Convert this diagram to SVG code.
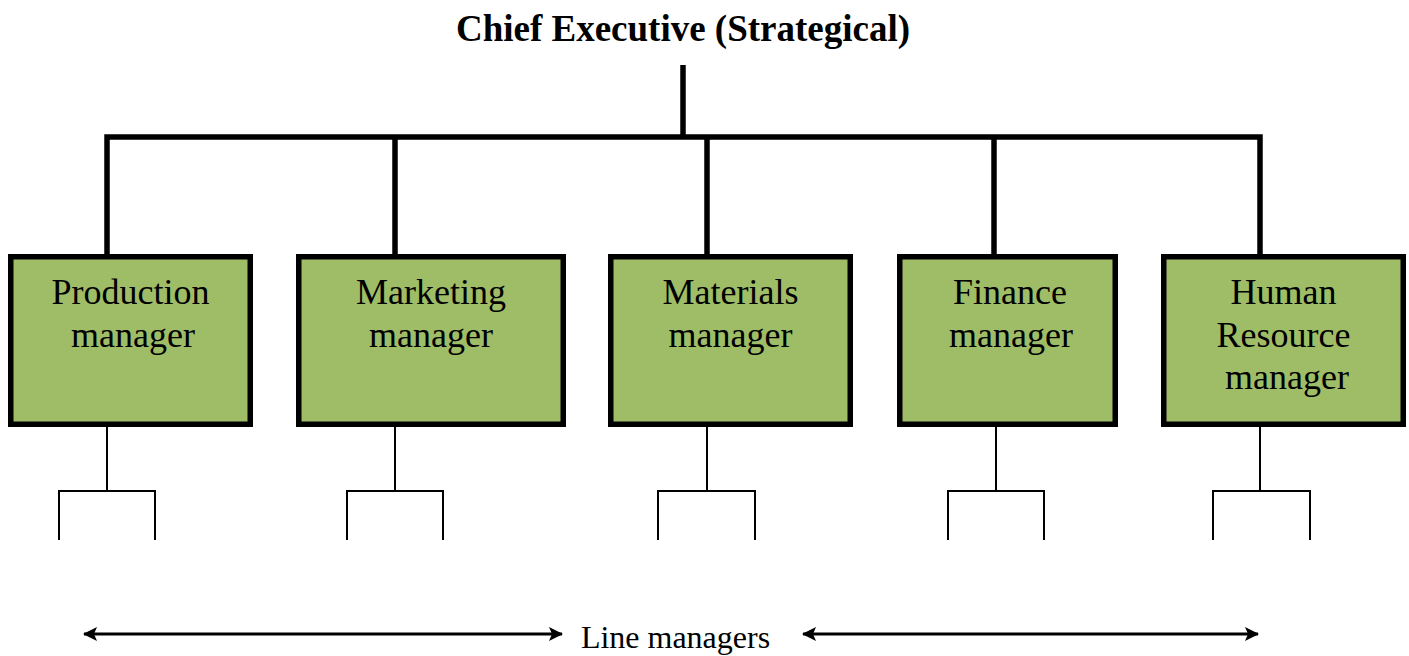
<svg xmlns="http://www.w3.org/2000/svg" width="1409" height="656" viewBox="0 0 1409 656">
  <style>
    .box { fill: #9FBD66; stroke: #000; stroke-width: 5.5; }
    .lbl { font-family: "Liberation Serif", "Times New Roman", serif; font-size: 36px; fill: #000; text-anchor: middle; }
    .title { font-family: "Liberation Serif", "Times New Roman", serif; font-size: 37px; font-weight: bold; fill: #000; text-anchor: middle; }
    .note { font-family: "Liberation Serif", "Times New Roman", serif; font-size: 32px; fill: #000; text-anchor: middle; }
    .thick { fill: none; stroke: #000; stroke-width: 5.5; stroke-linejoin: miter; }
    .thin { fill: none; stroke: #000; stroke-width: 2; }
    .arrow { fill: none; stroke: #000; stroke-width: 3; marker-start: url(#ah); marker-end: url(#ah); }
  </style>
  <defs>
    <marker id="ah" viewBox="0 0 14 14" refX="13" refY="7" markerWidth="14" markerHeight="14" markerUnits="userSpaceOnUse" orient="auto-start-reverse">
      <path d="M0,0 L14,7 L0,14 L3,7 z" fill="#000"/>
    </marker>
  </defs>

  <g id="chief-executive">
    <text class="title" x="683" y="41">Chief Executive (Strategical)</text>
  </g>

  <g id="connectors">
    <line class="thick" x1="683" y1="65" x2="683" y2="137"/>
    <path class="thick" d="M107,256 V137 H1260 V256"/>
    <line class="thick" x1="395" y1="137" x2="395" y2="256"/>
    <line class="thick" x1="707" y1="137" x2="707" y2="256"/>
    <line class="thick" x1="994" y1="137" x2="994" y2="256"/>

    <path class="thin" d="M107,419 V491 M59,540 V491 H155 V540"/>
    <path class="thin" d="M395,419 V491 M347,540 V491 H443 V540"/>
    <path class="thin" d="M707,419 V491 M658,540 V491 H755 V540"/>
    <path class="thin" d="M996,419 V491 M948,540 V491 H1044 V540"/>
    <path class="thin" d="M1260,419 V491 M1213,540 V491 H1310 V540"/>

    <line class="arrow" x1="84" y1="634" x2="562" y2="634"/>
    <line class="arrow" x1="803" y1="634" x2="1258" y2="634"/>
  </g>

  <g id="production-manager">
    <rect class="box" x="10.75" y="256.75" width="239.5" height="167.5"/>
    <text class="lbl" x="130.5" y="304">Production</text>
    <text class="lbl" x="133" y="347">manager</text>
  </g>

  <g id="marketing-manager">
    <rect class="box" x="298.75" y="256.75" width="264.5" height="167.5"/>
    <text class="lbl" x="431" y="304">Marketing</text>
    <text class="lbl" x="431" y="347">manager</text>
  </g>

  <g id="materials-manager">
    <rect class="box" x="610.75" y="256.75" width="239.5" height="167.5"/>
    <text class="lbl" x="730.5" y="304">Materials</text>
    <text class="lbl" x="730.5" y="347">manager</text>
  </g>

  <g id="finance-manager">
    <rect class="box" x="899.75" y="256.75" width="215.5" height="167.5"/>
    <text class="lbl" x="1010" y="304">Finance</text>
    <text class="lbl" x="1011" y="347">manager</text>
  </g>

  <g id="human-resource-manager">
    <rect class="box" x="1163.75" y="256.75" width="239.5" height="167.5"/>
    <text class="lbl" x="1283.5" y="304">Human</text>
    <text class="lbl" x="1283.5" y="347">Resource</text>
    <text class="lbl" x="1287" y="389">manager</text>
  </g>

  <g id="line-managers">
    <text class="note" x="675.5" y="648">Line managers</text>
  </g>
</svg>
